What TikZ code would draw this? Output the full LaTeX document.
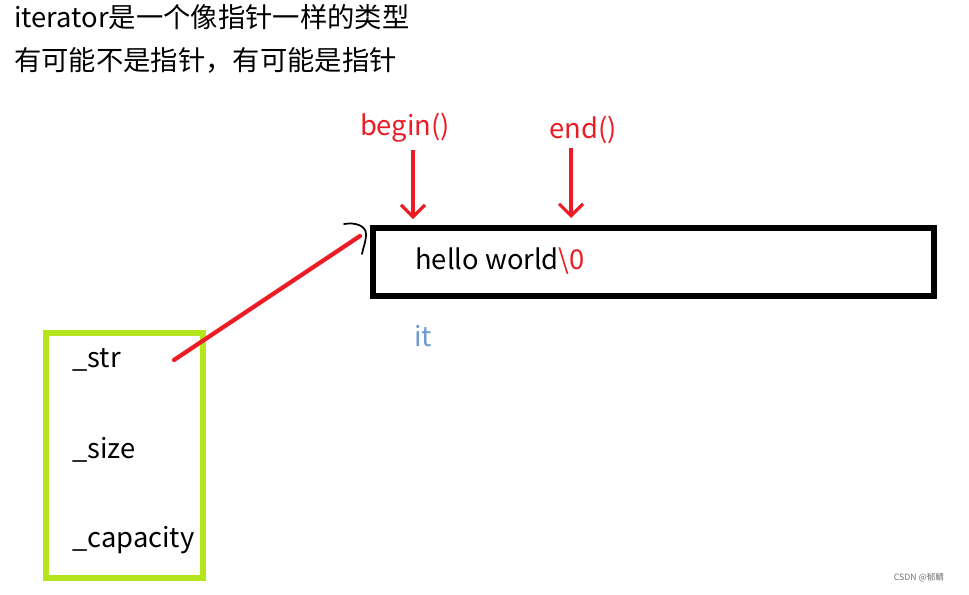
\documentclass[tikz,border=0pt]{standalone}
\usepackage{fontspec}
\setmainfont{Noto Sans CJK SC}
\usetikzlibrary{arrows.meta}
\definecolor{pred}{HTML}{ED1C24}
\definecolor{plime}{HTML}{B5E61D}
\definecolor{itblue}{HTML}{6C9BD2}
\tikzset{
  txt/.style={inner sep=0pt, font=\fontsize{20.5}{24}\selectfont, anchor=west},
  redarrow/.style={draw=pred, line width=2.3pt, -{Straight Barb[length=9pt,width=18pt,line width=2.3pt]}},
}
\begin{document}
\begin{tikzpicture}[x=0.75pt,y=-0.75pt]
\useasboundingbox (0,0) rectangle (969,594);
\fill[white] (0,0) rectangle (969,594);
% header text
\node[txt] (t1) at (14,17) {iterator是一个像指针一样的类型};
\node[txt] (t2) at (14,60) {有可能不是指针，有可能是指针};
% labels
\node[txt, text=pred, anchor=center] (begin) at (405,128) {begin()};
\node[txt, text=pred, anchor=center] (end) at (583,130) {end()};
% string box
\draw[line width=4pt] (373,228) rectangle (934,296);
\node[txt] (hello) at (415,261) {hello world\textcolor{pred}{\textbackslash0}};
\coordinate (bpos) at (413,219);
\coordinate (epos) at (571,218);
\coordinate (bstart) at (413,150);
\coordinate (estart) at (571,148);
\draw[redarrow] (bstart) -- (bpos);
\draw[redarrow] (estart) -- (epos);
\node[txt, text=itblue] (it) at (414,336) {it};
% struct box
\draw[plime, line width=4pt] (46,333) rectangle (203,578);
\node[txt] (str) at (72,360) {\_str};
\node[txt] (size) at (72,450) {\_size};
\node[txt] (cap) at (72,540) {\_capacity};
% pointer
\coordinate (pfrom) at (174,360);
\coordinate (pto) at (360,236);
\draw[pred, line width=3.2pt, line cap=round] (pfrom) -- (pto);
\draw[black, line width=1.3pt, line cap=round] (344,224) .. controls (356,222) and (366,226) .. (366,234) .. controls (366,242) and (363,248) .. (362,254);
% watermark
\node[inner sep=0pt, font=\fontsize{6.5}{8}\selectfont, text=black!55] (wm) at (919,578) {CSDN @郁鲭};
\end{tikzpicture}
\end{document}
